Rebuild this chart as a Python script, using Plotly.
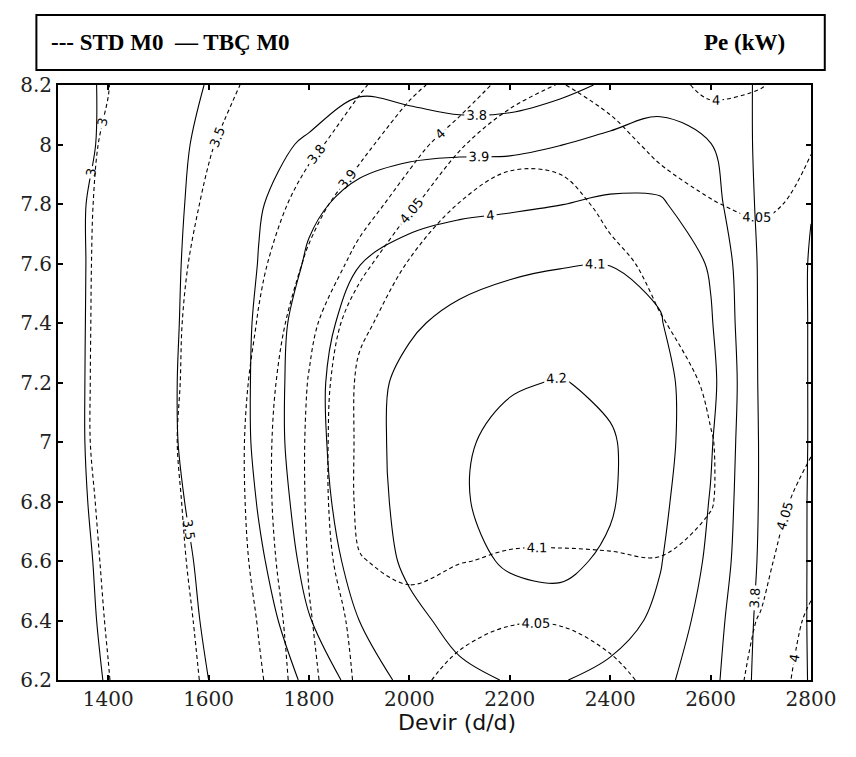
import plotly.graph_objects as go

# Engine speed (d/d) grid and mean effective pressure grid
rpm = [1300, 1400, 1500, 1600, 1700, 1800, 1900, 2000, 2100, 2200, 2300, 2400, 2500, 2600, 2700, 2800]
bmep = [6.2, 6.4, 6.6, 6.8, 7.0, 7.2, 7.4, 7.6, 7.8, 8.0, 8.2]

# Effective power Pe (kW), STD M0 engine (rows follow bmep, columns follow rpm)
pe_std = [
    [2.72, 2.99, 3.28, 3.55, 3.78, 3.985, 4.06, 4.058, 4.04, 4.03, 4.03, 4.042, 4.058, 4.06, 4.045, 3.97],
    [2.75, 3.02, 3.32, 3.58, 3.81, 3.995, 4.07, 4.085, 4.06, 4.052, 4.052, 4.06, 4.075, 4.07, 4.048, 3.99],
    [2.80, 3.04, 3.35, 3.62, 3.845, 4.005, 4.098, 4.11, 4.102, 4.094, 4.093, 4.096, 4.099, 4.09, 4.06, 4.02],
    [2.80, 3.07, 3.38, 3.64, 3.86, 4.012, 4.11, 4.12, 4.125, 4.125, 4.125, 4.12, 4.112, 4.102, 4.07, 4.035],
    [2.82, 3.10, 3.41, 3.65, 3.86, 4.013, 4.11, 4.115, 4.125, 4.13, 4.13, 4.125, 4.115, 4.102, 4.07, 4.055],
    [2.82, 3.10, 3.40, 3.63, 3.845, 4.005, 4.11, 4.125, 4.135, 4.14, 4.14, 4.135, 4.12, 4.094, 4.075, 4.07],
    [2.83, 3.09, 3.41, 3.60, 3.81, 3.98, 4.09, 4.125, 4.14, 4.145, 4.14, 4.125, 4.102, 4.085, 4.075, 4.07],
    [2.84, 3.08, 3.39, 3.575, 3.775, 3.92, 4.03, 4.105, 4.13, 4.14, 4.13, 4.11, 4.09, 4.08, 4.075, 4.072],
    [2.86, 3.06, 3.32, 3.54, 3.72, 3.86, 3.96, 4.04, 4.102, 4.125, 4.115, 4.09, 4.07, 4.052, 4.042, 4.06],
    [2.92, 3.02, 3.28, 3.48, 3.65, 3.77, 3.87, 3.97, 4.045, 4.08, 4.085, 4.065, 4.04, 4.03, 4.03, 4.048],
    [2.95, 2.995, 3.20, 3.40, 3.56, 3.70, 3.785, 3.875, 3.95, 4.03, 4.052, 4.035, 4.015, 3.99, 3.998, 4.02],
]

# Effective power Pe (kW), TBC M0 engine
pe_tbc = [
    [2.75, 3.03, 3.27, 3.50, 3.69, 3.83, 3.94, 4.03, 4.08, 4.105, 4.105, 4.075, 4.03, 3.93, 3.77, 3.48],
    [2.80, 3.06, 3.31, 3.54, 3.74, 3.895, 4.00, 4.075, 4.13, 4.16, 4.165, 4.14, 4.08, 3.95, 3.775, 3.475],
    [2.82, 3.08, 3.36, 3.56, 3.78, 3.935, 4.035, 4.12, 4.175, 4.21, 4.22, 4.185, 4.105, 3.98, 3.785, 3.475],
    [2.84, 3.11, 3.38, 3.61, 3.81, 3.955, 4.055, 4.13, 4.19, 4.235, 4.245, 4.21, 4.125, 3.995, 3.79, 3.475],
    [2.85, 3.13, 3.41, 3.64, 3.83, 3.965, 4.064, 4.13, 4.185, 4.23, 4.25, 4.21, 4.14, 4.01, 3.79, 3.48],
    [2.85, 3.13, 3.41, 3.65, 3.83, 3.965, 4.07, 4.12, 4.16, 4.19, 4.205, 4.18, 4.13, 4.03, 3.785, 3.48],
    [2.85, 3.125, 3.40, 3.64, 3.825, 3.955, 4.04, 4.09, 4.12, 4.14, 4.15, 4.145, 4.105, 4.01, 3.785, 3.48],
    [2.85, 3.12, 3.40, 3.62, 3.805, 3.915, 3.998, 4.04, 4.07, 4.085, 4.095, 4.098, 4.08, 3.99, 3.785, 3.48],
    [2.86, 3.11, 3.39, 3.60, 3.79, 3.88, 3.93, 3.96, 3.975, 3.985, 3.998, 4.015, 4.01, 3.94, 3.78, 3.51],
    [2.88, 3.04, 3.38, 3.57, 3.75, 3.82, 3.86, 3.875, 3.88, 3.88, 3.898, 3.925, 3.935, 3.902, 3.78, 3.53],
    [2.90, 3.03, 3.30, 3.52, 3.66, 3.72, 3.785, 3.76, 3.72, 3.73, 3.77, 3.815, 3.86, 3.85, 3.79, 3.55],
]

std_levels = [3, 3.5, 3.8, 3.9, 4, 4.05, 4.1]
tbc_levels = [3, 3.5, 3.8, 3.9, 4, 4.1, 4.2]

x_ticks = [1400, 1600, 1800, 2000, 2200, 2400, 2600, 2800]
y_ticks = [6.2, 6.4, 6.6, 6.8, 7.0, 7.2, 7.4, 7.6, 7.8, 8.0, 8.2]
y_tick_text = ["6.2", "6.4", "6.6", "6.8", "7", "7.2", "7.4", "7.6", "7.8", "8", "8.2"]

fig = go.Figure()


def add_levels(z, levels, dash):
    for lv in levels:
        fig.add_trace(go.Contour(
            x=rpm, y=bmep, z=z,
            autocontour=False,
            contours=dict(start=lv, end=lv + 1e-6, size=1, coloring="lines",
                          showlabels=True, labelformat=".3~g",
                          labelfont=dict(family="DejaVu Sans", size=13, color="black")),
            colorscale=[[0, "black"], [1, "black"]],
            line=dict(width=1.1, dash=dash, smoothing=1.0),
            showscale=False, hoverinfo="skip",
        ))


add_levels(pe_std, std_levels, "4px,3px")
add_levels(pe_tbc, tbc_levels, "solid")

axis_common = dict(showline=True, linecolor="black", linewidth=2, mirror="ticks",
                   ticks="inside", ticklen=5, tickwidth=1.5, tickcolor="black",
                   showgrid=False, zeroline=False,
                   tickfont=dict(family="DejaVu Serif", size=20, color="#222"))

fig.update_xaxes(range=[1300, 2800], tickvals=x_ticks, **axis_common)
fig.update_yaxes(range=[6.2, 8.2], tickvals=y_ticks, ticktext=y_tick_text, **axis_common)

# x-axis title
fig.add_annotation(xref="paper", yref="paper", x=0.53, y=-0.071, xanchor="center", yanchor="middle",
                   text="Devir (d/d)", showarrow=False,
                   font=dict(family="DejaVu Sans", size=22, color="#111"))

# Header box
fig.add_shape(type="rect", xref="paper", yref="paper",
              x0=-0.0287, x1=1.0183, y0=1.0252, y1=1.1176,
              line=dict(color="black", width=2), fillcolor="white")
hdr_font = dict(family="Liberation Serif", size=23, color="black")
fig.add_annotation(xref="paper", yref="paper", x=-0.012, y=1.0714, xanchor="left", yanchor="middle",
                   text="<b>--- STD M0</b>", showarrow=False, font=hdr_font)
fig.add_annotation(xref="paper", yref="paper", x=0.152, y=1.0714, xanchor="left", yanchor="middle",
                   text="<b>— TBÇ M0</b>", showarrow=False, font=hdr_font)
fig.add_annotation(xref="paper", yref="paper", x=0.968, y=1.0714, xanchor="right", yanchor="middle",
                   text="<b>Pe (kW)</b>", showarrow=False, font=hdr_font)

# The page body has an 8px default margin; size the figure so it fits the window exactly.
fig.update_layout(width=840, height=740, margin=dict(l=47, r=27, t=77, b=68),
                  paper_bgcolor="white", plot_bgcolor="white", showlegend=False)

fig.write_html("out.html")
